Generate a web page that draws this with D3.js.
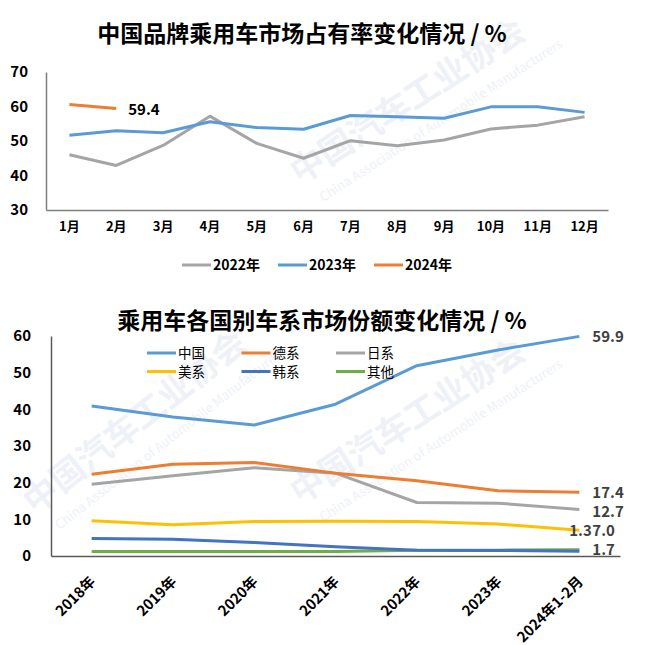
<!DOCTYPE html>
<html><head><meta charset="utf-8">
<script src="https://cdn.jsdelivr.net/npm/d3@7"></script>
<style>
body{margin:0;background:#fff;}
text{font-family:"Noto Sans CJK SC","Noto Sans",sans-serif;}
</style></head>
<body><svg id="c" width="659" height="645"></svg>
<script>
// ---- data: top chart ----
const months = ["1月","2月","3月","4月","5月","6月","7月","8月","9月","10月","11月","12月"];
const share2022 = [46.0,42.9,48.7,57.2,49.3,45.0,50.1,48.6,50.3,53.5,54.6,57.0];
const share2023 = [51.7,53.0,52.4,55.6,53.9,53.4,57.4,57.0,56.6,59.9,59.9,58.3];
const share2024 = [60.6,59.4];
const topTicks = [30,40,50,60,70];
const topSeriesNames = ["2022年","2023年","2024年"];

// ---- data: bottom chart ----
const years = ["2018年","2019年","2020年","2021年","2022年","2023年","2024年1-2月"];
const chinaShare  = [40.9,37.9,35.7,41.4,51.9,56.2,59.9];
const germanShare = [22.3,25.0,25.5,22.6,20.5,17.8,17.4];
const japanShare  = [19.6,21.9,24.1,22.6,14.6,14.4,12.7];
const usShare     = [9.6,8.5,9.4,9.5,9.4,8.7,7.0];
const koreaShare  = [4.8,4.6,3.7,2.5,1.6,1.5,1.3];
const otherShare  = [1.2,1.2,1.2,1.2,1.6,1.6,1.7];
const bottomSeriesNames = ["中国","德系","日系","美系","韩系","其他"];
const bottomTicks = [0,10,20,30,40,50,60];

const svg = d3.select("#c");
const font = "\"Noto Sans CJK SC\",\"Noto Sans\",sans-serif";

// ---- faint watermark ----
const wm = svg.append("g");
function watermark(x,y,ang,size){
  const g = wm.append("g").attr("transform",`translate(${x},${y}) rotate(${ang})`);
  g.append("text").text("中国汽车工业协会").attr("font-size",size).attr("font-weight",700).attr("fill","#eef2f8");
  g.append("text").text("China Association of Automobile Manufacturers").attr("x",10).attr("y",size*0.8)
    .attr("font-size",13).attr("fill","#eef2f8");
}
watermark(300,185,-33,34);
watermark(35,515,-38,34);
watermark(300,505,-33,34);

// ================= TOP CHART =================
const topColors = ["#A5A5A5","#5B9BD5","#ED7D31"];
const xT = d3.scaleBand().domain(months).range([46,608]);
const yT = d3.scaleLinear().domain([30,70]).range([210,72]);

svg.append("text").attr("x",302).attr("y",42).attr("text-anchor","middle")
  .attr("font-size",23).attr("font-weight",700).attr("fill","#000")
  .text("中国品牌乘用车市场占有率变化情况 / %");

const axL = svg.append("g").attr("transform","translate(46,0)")
  .call(d3.axisLeft(yT).tickValues(topTicks).tickSize(0).tickPadding(18));
axL.select(".domain").attr("stroke","#7f7f7f").attr("stroke-width",1.5);
axL.selectAll("text").attr("font-size",15).attr("font-weight",700).attr("fill","#000").attr("font-family",font);

const axB = svg.append("g").attr("transform","translate(0,210)")
  .call(d3.axisBottom(xT).tickSize(0).tickPadding(12));
axB.select(".domain").attr("stroke","#7f7f7f").attr("stroke-width",1.5);
axB.selectAll("text").attr("font-size",13).attr("font-weight",700).attr("fill","#000").attr("font-family",font);

const lineT = d3.line().x((d,i)=>xT(months[i])+xT.bandwidth()/2).y(d=>yT(d));
[share2022,share2023,share2024].forEach((s,k)=>{
  svg.append("path").datum(s).attr("d",lineT).attr("fill","none")
    .attr("stroke",topColors[k]).attr("stroke-width",3).attr("stroke-linejoin","round");
});
svg.append("text").attr("x",xT(months[1])+xT.bandwidth()/2+12).attr("y",yT(share2024[1])+6)
  .attr("font-size",15).attr("font-weight",700).attr("fill","#000").text(share2024[1].toFixed(1));

// legend top
const legT = svg.append("g");
topSeriesNames.forEach((n,i)=>{
  const x0 = 182 + i*96;
  legT.append("line").attr("x1",x0).attr("x2",x0+29).attr("y1",265).attr("y2",265)
    .attr("stroke",topColors[i]).attr("stroke-width",3);
  legT.append("text").attr("x",x0+31).attr("y",270).attr("font-size",14).attr("font-weight",700)
    .attr("fill","#000").text(n);
});

// ================= BOTTOM CHART =================
const botColors = ["#5B9BD5","#ED7D31","#A5A5A5","#FFC000","#4472C4","#70AD47"];
const botData = [chinaShare,germanShare,japanShare,usShare,koreaShare,otherShare];
const xB = d3.scaleBand().domain(years).range([51,620]);
const yB = d3.scaleLinear().domain([0,60]).range([556,336]);

svg.append("text").attr("x",322).attr("y",329).attr("text-anchor","middle")
  .attr("font-size",23).attr("font-weight",700).attr("fill","#000")
  .text("乘用车各国别车系市场份额变化情况 / %");

const axL2 = svg.append("g").attr("transform","translate(51,0)")
  .call(d3.axisLeft(yB).tickValues(bottomTicks).tickSize(0).tickPadding(20));
axL2.select(".domain").attr("stroke","#595959").attr("stroke-width",1.5);
axL2.selectAll("text").attr("font-size",15).attr("font-weight",700).attr("fill","#000").attr("font-family",font);

const axB2 = svg.append("g").attr("transform","translate(0,556)")
  .call(d3.axisBottom(xB).tickSize(0).tickPadding(10));
axB2.select(".domain").attr("stroke","#595959").attr("stroke-width",1.5);
axB2.selectAll("text").attr("font-size",14.5).attr("font-weight",700).attr("fill","#000").attr("font-family",font)
  .attr("text-anchor","end").attr("x",0).attr("y",0).attr("dy","0.35em")
  .attr("transform","translate(1,23) rotate(-45)");

const lineB = d3.line().x((d,i)=>xB(years[i])+xB.bandwidth()/2).y(d=>yB(d));
[5,4,3,2,1,0].forEach(k=>{
  svg.append("path").datum(botData[k]).attr("d",lineB).attr("fill","none")
    .attr("stroke",botColors[k]).attr("stroke-width",3).attr("stroke-linejoin","round");
});

// end labels (offsets are layout only)
const lastX = xB(years[6])+xB.bandwidth()/2;
const endLabels = [
  {k:0, dx:13, dy:6, anchor:"start"},
  {k:1, dx:13, dy:6, anchor:"start"},
  {k:2, dx:13, dy:8, anchor:"start"},
  {k:3, dx:13, dy:6, anchor:"start"},
  {k:4, dx:12.5, dy:-15, anchor:"end"},
  {k:5, dx:13, dy:5, anchor:"start"}
];
endLabels.forEach(o=>{
  const v = botData[o.k][6];
  svg.append("text").attr("x",lastX+o.dx).attr("y",yB(v)+o.dy).attr("text-anchor",o.anchor)
    .attr("font-size",15).attr("font-weight",700).attr("fill","#404040").text(v.toFixed(1));
});

// legend bottom
const legB = svg.append("g");
bottomSeriesNames.forEach((n,i)=>{
  const col = i%3, row = Math.floor(i/3);
  const x0 = 147 + col*94.5, y0 = 353 + row*18.5;
  legB.append("line").attr("x1",x0).attr("x2",x0+29).attr("y1",y0).attr("y2",y0)
    .attr("stroke",botColors[i]).attr("stroke-width",3);
  legB.append("text").attr("x",x0+31).attr("y",y0+5).attr("font-size",13.5)
    .attr("fill","#000").text(n);
});
</script></body></html>
